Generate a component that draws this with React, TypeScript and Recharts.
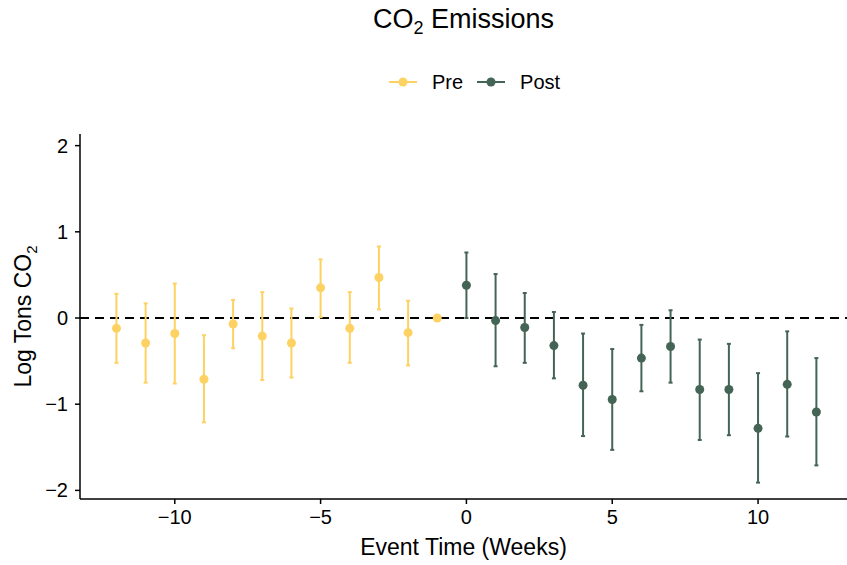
import { ComposedChart, Scatter, XAxis, YAxis, ErrorBar, ReferenceLine } from "recharts";

const PRE_COLOR = "#FDD262";
const POST_COLOR = "#446455";
const FONT = "'Liberation Sans', Arial, Helvetica, sans-serif";

// Pre-event weeks
const preWeeks = [-12, -11, -10, -9, -8, -7, -6, -5, -4, -3, -2, -1];
const preEst = [-0.12, -0.29, -0.18, -0.71, -0.07, -0.21, -0.29, 0.35, -0.12, 0.47, -0.17, 0];
const preLow = [-0.52, -0.75, -0.76, -1.21, -0.35, -0.72, -0.69, 0.01, -0.52, 0.1, -0.55, 0];
const preHigh = [0.28, 0.17, 0.4, -0.2, 0.21, 0.3, 0.11, 0.68, 0.3, 0.83, 0.2, 0];

// Post-event weeks
const postWeeks = [0, 1, 2, 3, 4, 5, 6, 7, 8, 9, 10, 11, 12];
const postEst = [0.38, -0.03, -0.11, -0.32, -0.78, -0.945, -0.465, -0.33, -0.83, -0.83, -1.28, -0.77, -1.09];
const postLow = [0.0, -0.56, -0.52, -0.7, -1.37, -1.53, -0.85, -0.75, -1.415, -1.36, -1.91, -1.375, -1.71];
const postHigh = [0.76, 0.51, 0.29, 0.07, -0.18, -0.36, -0.08, 0.09, -0.25, -0.3, -0.64, -0.155, -0.465];

const xTicks = [-10, -5, 0, 5, 10];
const yTicks = [-2, -1, 0, 1, 2];

function build(weeks: number[], est: number[], low: number[], high: number[]) {
  return weeks.map((w, i) => ({
    week: w,
    est: est[i],
    err: [est[i] - low[i], high[i] - est[i]],
  }));
}

const preData = build(preWeeks, preEst, preLow, preHigh);
const postData = build(postWeeks, postEst, postLow, postHigh);

const fmt = (v: number) => String(v).replace("-", "\u2212");

function Dot(color: string) {
  return (props: any) => <circle cx={props.cx} cy={props.cy} r={4.5} fill={color} />;
}

function YLabel(props: any) {
  const { viewBox } = props;
  const cy = viewBox.y + viewBox.height / 2;
  return (
    <text
      x={0}
      y={0}
      transform={`translate(31, ${cy}) rotate(-90)`}
      textAnchor="middle"
      fontFamily={FONT}
      fontSize={23}
      fill="#000"
    >
      Log Tons CO<tspan fontSize={15} dy={6}>2</tspan>
    </text>
  );
}

function LegendItem({ color, label, last }: { color: string; label: string; last?: boolean }) {
  return (
    <span style={{ display: "inline-flex", alignItems: "center", marginRight: last ? 0 : 14 }}>
      <svg width={28} height={12} style={{ marginRight: 15 }}>
        <line x1={0} y1={6} x2={28} y2={6} stroke={color} strokeWidth={2} />
        <circle cx={14} cy={6} r={4.5} fill={color} />
      </svg>
      <span>{label}</span>
    </span>
  );
}

export default function App() {
  return (
    <div style={{ position: "absolute", left: 0, top: 0, width: 847, height: 565, background: "#fff", fontFamily: FONT }}>
      <div style={{ position: "absolute", left: 80, width: 767, top: 4, textAlign: "center", fontSize: 27, color: "#000" }}>
        CO<span style={{ fontSize: 18, verticalAlign: "sub" }}>2</span> Emissions
      </div>
      <div style={{ position: "absolute", left: 91, width: 767, top: 69, textAlign: "center", fontSize: 20, color: "#000", lineHeight: "24px" }}>
        <LegendItem color={PRE_COLOR} label="Pre" />
        <LegendItem color={POST_COLOR} label="Post" last />
      </div>
      <ComposedChart width={847} height={565} margin={{ top: 134, right: 0, bottom: 0, left: 0 }}>
        <XAxis
          type="number"
          dataKey="week"
          domain={[-13.25, 13.05]}
          ticks={xTicks}
          tickFormatter={fmt}
          height={66}
          tickSize={5}
          tickMargin={6}
          allowDataOverflow
          stroke="#000"
          strokeWidth={1.5}
          tick={{ fill: "#000", fontSize: 20, fontFamily: FONT }}
          label={{ value: "Event Time (Weeks)", position: "insideBottom", offset: 10, fill: "#000", fontSize: 23, fontFamily: FONT }}
        />
        <YAxis
          type="number"
          dataKey="est"
          domain={[-2.1, 2.135]}
          ticks={yTicks}
          tickFormatter={fmt}
          width={80}
          tickSize={5}
          tickMargin={7}
          allowDataOverflow
          stroke="#000"
          strokeWidth={1.5}
          tick={{ fill: "#000", fontSize: 20, fontFamily: FONT }}
          label={<YLabel />}
        />
        <ReferenceLine y={0} stroke="#000" strokeWidth={2} strokeDasharray="9 6" />
        <Scatter data={preData} dataKey="est" shape={Dot(PRE_COLOR)} isAnimationActive={false}>
          <ErrorBar dataKey="err" direction="y" width={2} stroke={PRE_COLOR} strokeWidth={2} isAnimationActive={false} />
        </Scatter>
        <Scatter data={postData} dataKey="est" shape={Dot(POST_COLOR)} isAnimationActive={false}>
          <ErrorBar dataKey="err" direction="y" width={2} stroke={POST_COLOR} strokeWidth={2} isAnimationActive={false} />
        </Scatter>
      </ComposedChart>
    </div>
  );
}
